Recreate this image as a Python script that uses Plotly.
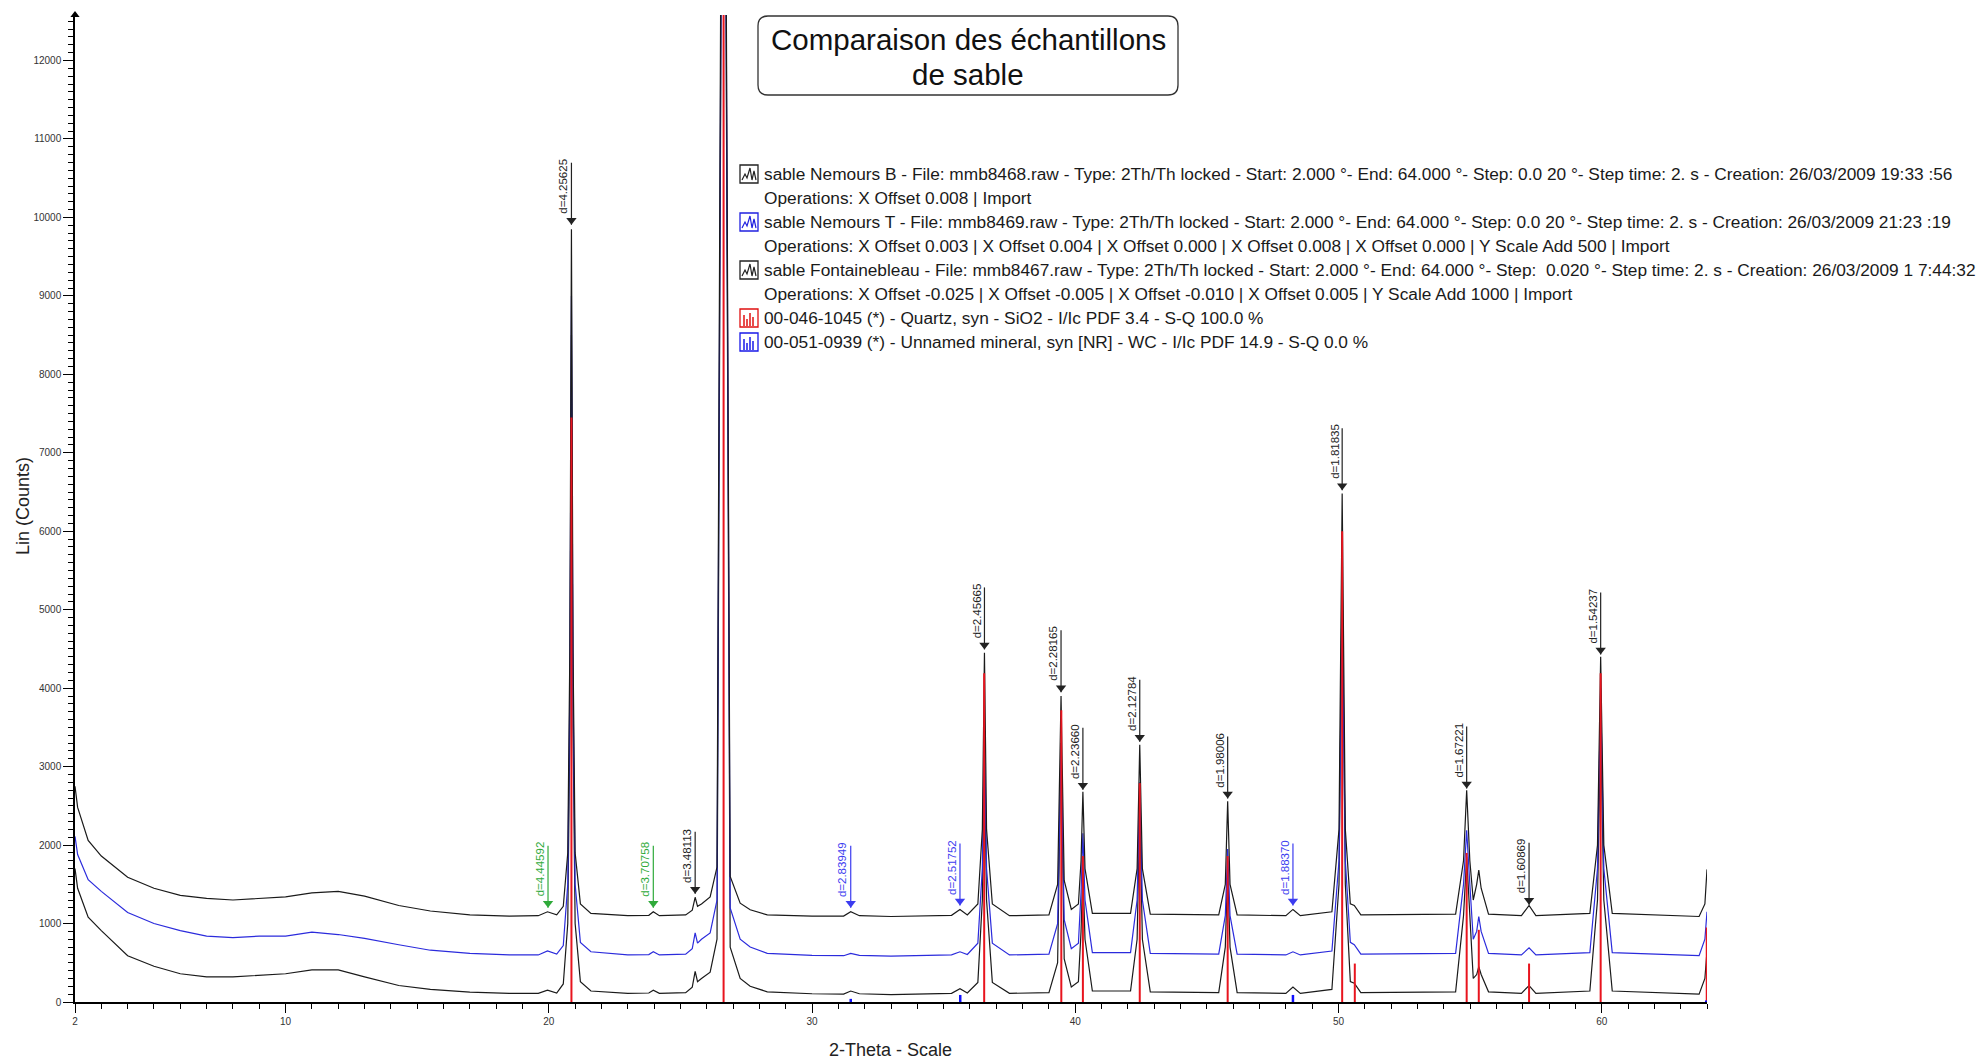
import plotly.graph_objects as go

# ---------------- data ----------------
two_theta = [2.0, 2.1, 2.5, 3.0, 4.0, 5.0, 6.0, 7.0, 8.0, 9.0,
             10.0, 11.0, 12.0, 13.0, 14.3, 15.5, 17.0, 18.5, 19.6, 19.95,
             20.3, 20.55, 20.72, 20.8, 20.86, 20.92, 21.0, 21.2, 21.6, 23.0,
             23.8, 23.97, 24.2, 25.2, 25.45, 25.56, 25.65, 25.8, 26.13, 26.39,
             26.55, 26.64, 26.72, 26.89, 27.27, 27.65, 28.3, 30.0, 31.2, 31.47,
             31.8, 33.0, 35.3, 35.62, 35.9, 36.3, 36.47, 36.55, 36.63, 36.85,
             37.5, 39.0, 39.33, 39.46, 39.58, 39.85, 40.12, 40.22, 40.29, 40.37,
             40.65, 42.1, 42.35, 42.45, 42.55, 42.85, 45.45, 45.7, 45.79, 45.88,
             46.15, 48.0, 48.27, 48.55, 49.75, 50.02, 50.14, 50.26, 50.45, 50.6,
             50.85, 54.45, 54.75, 54.87, 54.99, 55.12, 55.25, 55.33, 55.42, 55.7,
             56.95, 57.24, 57.5, 59.55, 59.84, 59.96, 60.08, 60.4, 63.7, 63.92, 64.0]

# sable Fontainebleau (Y Scale Add 1000)
counts_fontainebleau = [2750, 2480, 2060, 1860, 1590, 1450, 1360, 1320, 1300, 1320,
                        1340, 1390, 1410, 1350, 1230, 1160, 1110, 1095, 1100, 1150,
                        1110, 1220, 1900, 4500, 9850, 4500, 1900, 1250, 1130, 1100,
                        1105, 1150, 1100, 1110, 1170, 1335, 1220, 1250, 1340, 1720,
                        14500, 40000, 14500, 1600, 1260, 1175, 1110, 1095, 1095, 1150,
                        1100, 1090, 1105, 1180, 1110, 1250, 2200, 4450, 2200, 1250,
                        1100, 1110, 1500, 3900, 1550, 1180, 1250, 1800, 2680, 1700,
                        1130, 1130, 1700, 3280, 1700, 1120, 1110, 1500, 2560, 1500,
                        1110, 1100, 1180, 1100, 1150, 2200, 6480, 2200, 1250, 1230,
                        1110, 1120, 1800, 2700, 1800, 1300, 1500, 1680, 1450, 1120,
                        1100, 1230, 1100, 1130, 2000, 4400, 2000, 1130, 1090, 1250, 1690]

# sable Nemours T (Y Scale Add 500)
counts_nemours_t = [2110, 1880, 1560, 1410, 1140, 1000, 910, 840, 820, 840,
                    840, 890, 860, 810, 730, 660, 620, 600, 600, 650,
                    610, 720, 1500, 4000, 9000, 4000, 1500, 760, 640, 600,
                    605, 640, 600, 610, 680, 880, 750, 800, 880, 1300,
                    13500, 40000, 14000, 1200, 800, 700, 620, 595, 590, 620,
                    595, 585, 600, 640, 605, 750, 1700, 3500, 1700, 750,
                    600, 610, 1000, 3300, 1050, 680, 750, 1400, 2150, 1300,
                    630, 630, 1300, 2800, 1300, 620, 610, 1100, 1950, 1100,
                    610, 600, 640, 600, 650, 1800, 5000, 1800, 760, 730,
                    610, 620, 1500, 2190, 1500, 800, 900, 1090, 900, 620,
                    600, 690, 600, 630, 1700, 4000, 1700, 630, 590, 800, 1150]

# sable Nemours B
counts_nemours_b = [1700, 1450, 1080, 910, 590, 455, 360, 320, 320, 340,
                    360, 410, 410, 320, 210, 160, 125, 110, 110, 150,
                    115, 230, 1000, 3500, 8500, 3500, 1000, 260, 140, 110,
                    115, 150, 110, 120, 190, 390, 260, 300, 380, 800,
                    13000, 40000, 13500, 700, 300, 200, 130, 105, 100, 140,
                    105, 95, 110, 170, 115, 250, 1300, 3000, 1300, 250,
                    110, 120, 500, 3300, 550, 190, 260, 900, 1700, 800,
                    140, 140, 800, 2500, 800, 130, 120, 700, 1700, 700,
                    120, 110, 190, 110, 160, 1500, 5500, 1500, 260, 240,
                    120, 130, 1100, 1850, 1100, 300, 350, 450, 350, 130,
                    110, 210, 110, 140, 1300, 3500, 1300, 140, 100, 300, 650]

# reference patterns
quartz_pos = [20.86, 26.64, 36.54, 39.47, 40.29, 42.45, 45.79, 50.14, 50.62, 54.87, 55.33, 57.24, 59.96, 63.99]
quartz_int = [7450, 46500, 4190, 3720, 1860, 2790, 1860, 6000, 490, 1900, 920, 490, 4190, 950]
wc_pos = [31.47, 35.63, 48.27, 63.97]
wc_int = [40, 90, 90, 20]

# peak labels: position, arrow tip (counts), text, colour group
label_pos = [19.97, 20.86, 23.97, 25.56, 31.47, 35.62, 36.55, 39.46, 40.29, 42.45,
             45.79, 48.27, 50.14, 54.87, 57.24, 59.96]
label_tip = [1200, 9907, 1200, 1380, 1200, 1230, 4494, 3947, 2706, 3318,
             2593, 1230, 6524, 2722, 1240, 4430]
label_text = ["d=4.44592", "d=4.25625", "d=3.70758", "d=3.48113", "d=2.83949", "d=2.51752",
              "d=2.45665", "d=2.28165", "d=2.23660", "d=2.12784", "d=1.98006", "d=1.88370",
              "d=1.81835", "d=1.67221", "d=1.60869", "d=1.54237"]
label_kind = ["g", "k", "g", "k", "b", "b", "k", "k", "k", "k", "k", "b", "k", "k", "k", "k"]

legend_lines = [
    "sable Nemours B - File: mmb8468.raw - Type: 2Th/Th locked - Start: 2.000 °- End: 64.000 °- Step: 0.0 20 °- Step time: 2. s - Creation: 26/03/2009 19:33 :56",
    "Operations: X Offset 0.008 | Import",
    "sable Nemours T - File: mmb8469.raw - Type: 2Th/Th locked - Start: 2.000 °- End: 64.000 °- Step: 0.0 20 °- Step time: 2. s - Creation: 26/03/2009 21:23 :19",
    "Operations: X Offset 0.003 | X Offset 0.004 | X Offset 0.000 | X Offset 0.008 | X Offset 0.000 | Y Scale Add 500 | Import",
    "sable Fontainebleau - File: mmb8467.raw - Type: 2Th/Th locked - Start: 2.000 °- End: 64.000 °- Step:  0.020 °- Step time: 2. s - Creation: 26/03/2009 1 7:44:32",
    "Operations: X Offset -0.025 | X Offset -0.005 | X Offset -0.010 | X Offset 0.005 | Y Scale Add 1000 | Import",
    "00-046-1045 (*) - Quartz, syn - SiO2 - I/Ic PDF 3.4 - S-Q 100.0 %",
    "00-051-0939 (*) - Unnamed mineral, syn [NR] - WC - I/Ic PDF 14.9 - S-Q 0.0 %",
]
legend_icons = ["scan_k", None, "scan_b", None, "scan_k", None, "ref_r", "ref_b"]

title_lines = ["Comparaison des échantillons", "de sable"]
x_title = "2-Theta - Scale"
y_title = "Lin (Counts)"
y_ticks = list(range(0, 12001, 1000))
x_ticks = [2, 10, 20, 30, 40, 50, 60]

# ---------------- layout constants ----------------
W, H = 1982, 1063
ML, MR, MT, MB = 75, 275, 15, 61
PW, PH = W - ML - MR, H - MT - MB
XR = [2, 64]
YR = [0, 12580]
CPP = (YR[1] - YR[0]) / PH  # counts per pixel
FONT = "Arial, 'Liberation Sans', sans-serif"
BLACK = "#1a1a1a"
BLUE = "#2b2bdc"
RED = "#e8141e"
GREEN = "#2faa3a"
kind_color = {"k": "#222222", "b": "#3c3cf0", "g": GREEN}


def px(xp):
    return (xp - ML) / PW


def py(yp):
    return (H - MB - yp) / PH


fig = go.Figure()

for ys, col in [(counts_nemours_b, BLACK), (counts_nemours_t, BLUE), (counts_fontainebleau, BLACK)]:
    fig.add_trace(go.Scatter(x=two_theta, y=ys, mode="lines",
                             line=dict(color=col, width=1.2), hoverinfo="skip"))


def sticks(pos, hts):
    xs, ys = [], []
    for p, h in zip(pos, hts):
        xs += [p, p, None]
        ys += [0, h, None]
    return xs, ys


qx, qy = sticks(quartz_pos, quartz_int)
fig.add_trace(go.Scatter(x=qx, y=qy, mode="lines", line=dict(color=RED, width=2), hoverinfo="skip"))
wx, wy = sticks(wc_pos, wc_int)
fig.add_trace(go.Scatter(x=wx, y=wy, mode="lines", line=dict(color="#1010ff", width=2.5), hoverinfo="skip"))

# label stems + arrow heads
STEM_PX = 62
for k, col in kind_color.items():
    xs, ys, mx, my = [], [], [], []
    for p, t, kk in zip(label_pos, label_tip, label_kind):
        if kk != k:
            continue
        xs += [p, p, None]
        ys += [t, t + STEM_PX * CPP, None]
        mx.append(p)
        my.append(t + 4.5 * CPP)
    fig.add_trace(go.Scatter(x=xs, y=ys, mode="lines", line=dict(color=col, width=1.2), hoverinfo="skip"))
    fig.add_trace(go.Scatter(x=mx, y=my, mode="markers", hoverinfo="skip",
                             marker=dict(symbol="triangle-down", size=9, color=col, line=dict(width=0))))

for p, t, txt, kk in zip(label_pos, label_tip, label_text, label_kind):
    fig.add_annotation(x=p, y=t + 9 * CPP, text=txt, showarrow=False, textangle=-90,
                       xanchor="right", yanchor="bottom", xshift=0,
                       font=dict(family=FONT, size=11.5, color=kind_color[kk]))

# y axis arrow head
fig.add_trace(go.Scatter(x=[XR[0]], y=[YR[1]], mode="markers", cliponaxis=False, hoverinfo="skip",
                         marker=dict(symbol="triangle-up", size=8, color="#000")))

shapes = []
# title box with rounded corners
bx0, bx1, by0, by1 = px(758), px(1178), py(95), py(16)
rx, ry = 10 / PW, 10 / PH
path = (f"M {bx0+rx},{by1} L {bx1-rx},{by1} Q {bx1},{by1} {bx1},{by1-ry} "
        f"L {bx1},{by0+ry} Q {bx1},{by0} {bx1-rx},{by0} L {bx0+rx},{by0} "
        f"Q {bx0},{by0} {bx0},{by0+ry} L {bx0},{by1-ry} Q {bx0},{by1} {bx0+rx},{by1} Z")
shapes.append(dict(type="path", xref="paper", yref="paper", path=path,
                   line=dict(color="#333", width=1.3), fillcolor="rgba(255,255,255,0)"))
fig.add_annotation(xref="paper", yref="paper", x=px(968), y=py(40), text=title_lines[0],
                   showarrow=False, xanchor="center", yanchor="middle",
                   font=dict(family=FONT, size=29.5, color="#111"))
fig.add_annotation(xref="paper", yref="paper", x=px(968), y=py(74), text=title_lines[1],
                   showarrow=False, xanchor="center", yanchor="middle",
                   font=dict(family=FONT, size=29.5, color="#111"))

# legend block
LEG_Y0, LEG_DY = 174, 24
for i, (txt, icon) in enumerate(zip(legend_lines, legend_icons)):
    yc = LEG_Y0 + i * LEG_DY
    fig.add_annotation(xref="paper", yref="paper", x=px(762), y=py(yc), text=txt,
                       showarrow=False, xanchor="left", yanchor="middle",
                       font=dict(family=FONT, size=17.3, color="#1a1a1a"))
    if icon is None:
        continue
    col = {"scan_k": "#222", "scan_b": "#2020e0", "ref_r": "#e01010", "ref_b": "#1818e8"}[icon]
    x0, x1, y0, y1 = 740, 758, yc - 9, yc + 9
    shapes.append(dict(type="rect", xref="paper", yref="paper", x0=px(x0), x1=px(x1), y0=py(y1), y1=py(y0),
                       line=dict(color=col, width=1.3), fillcolor="white"))
    if icon.startswith("scan"):
        pts = [(2, 15), (5, 9), (7, 13), (10, 3), (12, 15), (14, 6), (16, 15)]
        d = "M " + " L ".join(f"{px(x0 + a)},{py(y0 + b)}" for a, b in pts)
        shapes.append(dict(type="path", xref="paper", yref="paper", path=d, line=dict(color=col, width=1.2)))
    else:
        for a, b in [(4, 6), (7, 10), (10, 4), (13, 8)]:
            shapes.append(dict(type="line", xref="paper", yref="paper", x0=px(x0 + a), x1=px(x0 + a),
                               y0=py(y1 - 1), y1=py(y0 + b), line=dict(color=col, width=1.5)))

# axis titles
fig.add_annotation(xref="paper", yref="paper", x=px(890), y=py(1050), text=x_title, showarrow=False,
                   xanchor="center", yanchor="middle", font=dict(family=FONT, size=18, color="#222"))
fig.add_annotation(xref="paper", yref="paper", x=px(23), y=py(506), text=y_title, showarrow=False,
                   textangle=-90, xanchor="center", yanchor="middle", font=dict(family=FONT, size=18, color="#222"))

fig.update_layout(
    width=W, height=H, margin=dict(l=ML, r=MR, t=MT, b=MB, pad=0),
    paper_bgcolor="white", plot_bgcolor="white", showlegend=False, shapes=shapes,
    xaxis=dict(range=XR, showgrid=False, zeroline=False, showline=True, linecolor="#000", linewidth=1.5,
               ticks="outside", tickvals=x_ticks, ticktext=[str(v) for v in x_ticks],
               ticklen=9, tickwidth=1.2, tickcolor="#000",
               minor=dict(dtick=1, tick0=0, ticks="outside", ticklen=5, tickwidth=1, tickcolor="#000", showgrid=False),
               tickfont=dict(family=FONT, size=10, color="#333")),
    yaxis=dict(range=YR, showgrid=False, zeroline=False, showline=True, linecolor="#000", linewidth=1.5,
               ticks="outside", tickvals=y_ticks, ticktext=[str(v) for v in y_ticks],
               ticklen=10, tickwidth=1.2, tickcolor="#000",
               minor=dict(dtick=100, ticks="outside", ticklen=5, tickwidth=1, tickcolor="#000", showgrid=False),
               tickfont=dict(family=FONT, size=10, color="#333")),
)

fig.write_html("out.html", config={"displayModeBar": False},
               post_script="document.body.style.margin='0px';")
